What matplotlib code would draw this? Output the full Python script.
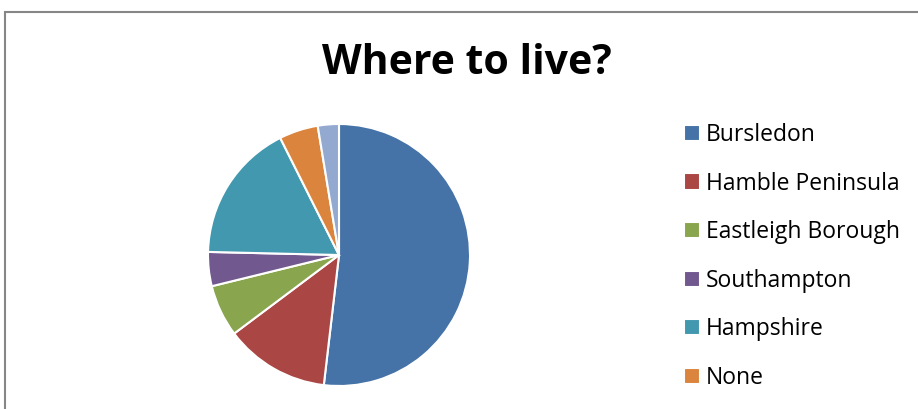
import matplotlib.pyplot as plt
from matplotlib.patches import Rectangle

# Survey answers, share of responses (%)
places = ['Bursledon', 'Hamble Peninsula', 'Eastleigh Borough', 'Southampton',
          'Hampshire', 'None', 'Other']
shares = [51.8, 12.9, 6.4, 4.2, 17.2, 4.8, 2.6]
colours = ['#4572A7', '#AA4643', '#89A54E', '#71588F', '#4198AF', '#DB843D', '#93A9CF']

W, H = 918, 409
fig = plt.figure(figsize=(W / 100, H / 100), dpi=100)
fig.patch.set_facecolor('white')

# chart area border (runs off the right and bottom)
fig.add_artist(Rectangle((5 / W, -0.1), 1.2, 1.1 - 12 / H, transform=fig.transFigure,
                         fill=False, edgecolor='#868686', linewidth=1.5))

r = 131
cx, cy = 339, 255
ax = fig.add_axes([(cx - r) / W, (H - cy - r) / H, 2 * r / W, 2 * r / H])
wedges, _ = ax.pie(shares, colors=colours, startangle=90, counterclock=False,
                   wedgeprops=dict(edgecolor='white', linewidth=1.5))
ax.set_xlim(-1.0, 1.0)
ax.set_ylim(-1.0, 1.0)
ax.set_aspect('equal')
ax.axis('off')

fig.text(467 / W, 1 - 64 / H, 'Where to live?', ha='center', va='center',
         fontsize=29.5, fontweight='bold', family='Open Sans')

# the last entry falls below the chart area, so only six fit
fig.legend(wedges[:6], places[:6], loc='upper left', bbox_to_anchor=(684 / W, 1 - 123 / H),
           frameon=False, prop=dict(family='Open Sans', size=16.5),
           handlelength=0.7, handleheight=0.7, handletextpad=0.25,
           labelspacing=1.07, borderpad=0, borderaxespad=0)

fig.savefig('out.png', dpi=100)
